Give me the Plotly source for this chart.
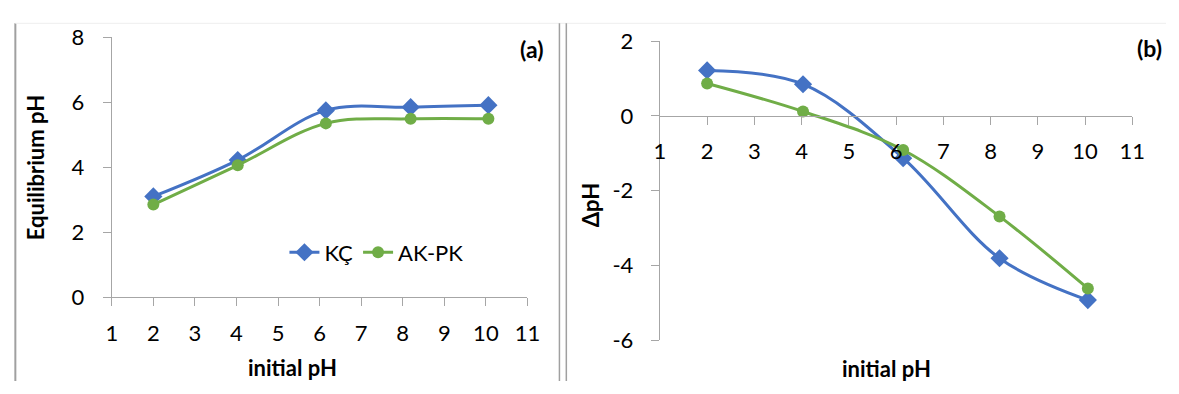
import plotly.graph_objects as go

# ---- data ----
initial_ph = [2.0, 4.03, 6.15, 8.19, 10.06]
eq_kc = [3.10, 4.22, 5.75, 5.85, 5.91]
eq_akpk = [2.85, 4.06, 5.35, 5.49, 5.49]
dph_kc = [1.22, 0.85, -1.13, -3.81, -4.93]
dph_akpk = [0.87, 0.12, -0.91, -2.69, -4.62]
series_names = ["KÇ", "AK-PK"]
x_ticks = list(range(1, 12))
y_ticks_a = [0, 2, 4, 6, 8]
y_ticks_b = [-6, -4, -2, 0, 2]

BLUE = "#4472C4"
GREEN = "#70AD47"
AXIS = "#A6A6A6"
FONT = "Lato"

W, H = 1179, 394

fig = go.Figure()

def add_series(x, y, name, color, symbol, size, xa, ya, show):
    fig.add_trace(go.Scatter(
        x=x, y=y, name=name, mode="lines+markers",
        line=dict(color=color, width=3, shape="spline", smoothing=1.0),
        marker=dict(symbol=symbol, size=size, color=color),
        xaxis=xa, yaxis=ya, showlegend=show, cliponaxis=False))

add_series(initial_ph, eq_kc, series_names[0], BLUE, "diamond", 14, "x", "y", True)
add_series(initial_ph, eq_akpk, series_names[1], GREEN, "circle", 12, "x", "y", True)
add_series(initial_ph, dph_kc, series_names[0], BLUE, "diamond", 14, "x2", "y2", False)
add_series(initial_ph, dph_akpk, series_names[1], GREEN, "circle", 12, "x2", "y2", False)

# domains in paper fractions
xa_dom = [107.5 / W, 530 / W]
ya_dom = [1 - 304 / H, 1 - 25 / H]
xb_dom = [664.6 / W, 1144.7 / W]
yb_dom = [1 - 350 / H, 1 - 29.3 / H]
zero_b = yb_dom[0] + (0 - (-6)) / 8 * (yb_dom[1] - yb_dom[0])

tickfont = dict(family=FONT, size=22, color="#000000")
common_x = dict(range=[1, 11], tickvals=x_ticks, ticktext=[str(v) for v in x_ticks],
                showgrid=False, zeroline=False,
                showline=True, linecolor=AXIS, linewidth=1.3, ticks="outside",
                ticklen=8, tickcolor=AXIS, tickwidth=1.3, tickfont=tickfont)
common_y = dict(showgrid=False, zeroline=False, showline=True, linecolor=AXIS,
                linewidth=1.3, ticks="outside", ticklen=8, tickcolor=AXIS,
                tickwidth=1.3, tickfont=tickfont)

fig.update_layout(
    width=W, height=H, margin=dict(l=0, r=0, t=0, b=0),
    paper_bgcolor="white", plot_bgcolor="white",
    font=dict(family=FONT, color="#000000"),
    xaxis=dict(domain=xa_dom, anchor="y", ticklabelstandoff=8, **common_x),
    yaxis=dict(domain=ya_dom, anchor="x", range=[0, 8], tickvals=y_ticks_a,
               ticktext=[str(v) for v in y_ticks_a],
               ticklabelstandoff=14, **common_y),
    xaxis2=dict(domain=xb_dom, anchor="free", position=zero_b,
                ticklabelstandoff=7, **common_x),
    yaxis2=dict(domain=yb_dom, anchor="x2", range=[-6, 2], tickvals=y_ticks_b,
                ticktext=[str(v) for v in y_ticks_b],
                ticklabelstandoff=13, **common_y),
    legend=dict(orientation="h", x=283 / W, y=1 - 256 / H, xanchor="left",
                yanchor="middle", font=dict(family=FONT, size=22, color="#000000"),
                bgcolor="rgba(0,0,0,0)", itemwidth=30, tracegroupgap=0),
)

title_font = dict(family=FONT, size=22, color="#000000")
ann = [
    dict(text="<b>Equilibrium pH</b>", x=30 / W, y=1 - 165 / H, textangle=-90),
    dict(text="<b>initial pH</b>", x=291 / W, y=1 - 379 / H),
    dict(text="<b>ΔpH</b>", x=595 / W, y=1 - 205 / H, textangle=-90),
    dict(text="<b>initial pH</b>", x=895 / W, y=1 - 381 / H),
    dict(text="<b>(a)</b>", x=534 / W, y=1 - 38 / H, font=dict(family=FONT, size=23, color="#000000")),
    dict(text="<b>(b)</b>", x=1162 / W, y=1 - 36 / H, font=dict(family=FONT, size=23, color="#000000")),
]
for a in ann:
    a.setdefault("font", title_font)
    fig.add_annotation(xref="paper", yref="paper", showarrow=False,
                       xanchor="center", yanchor="middle", **a)

# chart-frame borders
border = "#A0A0A0"
shapes = [
    dict(x0=9.5 / W, x1=9.5 / W, y0=0, y1=1 - 10 / H, line=dict(color=border, width=2)),
    dict(x0=9.5 / W, x1=1, y0=1 - 10 / H, y1=1 - 10 / H, line=dict(color="#EEEEEE", width=1)),
    dict(x0=562.5 / W, x1=562.5 / W, y0=0, y1=1 - 10 / H, line=dict(color=border, width=1.5)),
    dict(x0=569.5 / W, x1=569.5 / W, y0=0, y1=1 - 10 / H, line=dict(color=border, width=1.5)),
]
for s in shapes:
    fig.add_shape(type="line", xref="paper", yref="paper", layer="below", **s)

# remove the default page margin so the figure fills the window exactly
fig.write_html(
    "out.html",
    config={"displayModeBar": False},
    post_script="document.body.style.margin='0';document.body.style.overflow='hidden';",
)
